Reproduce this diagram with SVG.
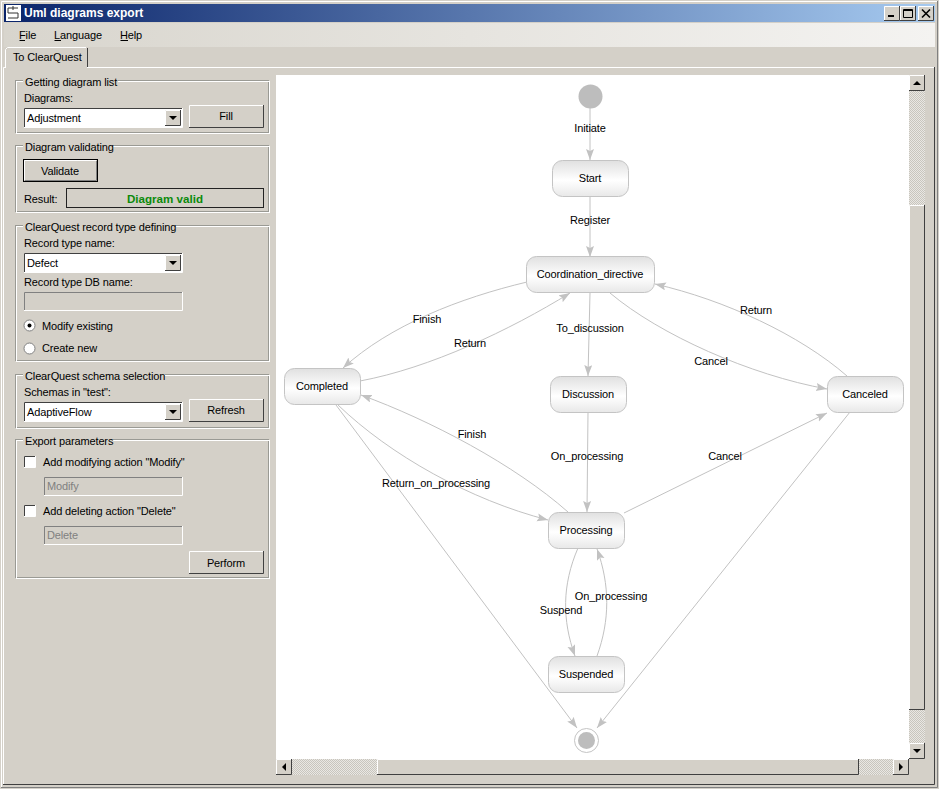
<svg xmlns="http://www.w3.org/2000/svg" width="939" height="789" viewBox="0 0 939 789">
<style>
text{font-family:"Liberation Sans",Arial,sans-serif;font-size:11px;letter-spacing:-0.13px;fill:#000}
.m{text-anchor:middle}
.dim{fill:#808080}
.grp{fill:none;stroke:#9a9a94;stroke-width:1}
.grph{fill:none;stroke:#fff;stroke-width:1}
.face{fill:#d4d0c8}
.white{fill:#fff}
.hl{stroke:#fff;fill:none}
.sh{stroke:#404040;fill:none}
.mid{stroke:#808080;fill:none}
.edge{fill:none;stroke:#c2c2c2;stroke-width:1;marker-end:url(#ah)}
.node rect{fill:url(#ng);stroke:#c4c4c4;stroke-width:1}
.glyph{fill:#000}
</style>
<defs>
<linearGradient id="title" x1="0" x2="1" y1="0" y2="0"><stop offset="0" stop-color="#0a246a"/><stop offset="1" stop-color="#a6caf0"/></linearGradient>
<linearGradient id="menu" x1="0" x2="1" y1="0" y2="0"><stop offset="0" stop-color="#d8d5cd"/><stop offset="1" stop-color="#f4f3f1"/></linearGradient>
<linearGradient id="ng" x1="0" x2="0" y1="0" y2="1"><stop offset="0" stop-color="#e0e0e0"/><stop offset="0.55" stop-color="#ffffff"/><stop offset="1" stop-color="#e8e8e8"/></linearGradient>
<pattern id="dith" width="2" height="2" patternUnits="userSpaceOnUse"><rect width="2" height="2" fill="#e9e7e3"/><rect width="1" height="1" fill="#c8c5bd"/><rect x="1" y="1" width="1" height="1" fill="#c8c5bd"/></pattern>
<marker id="ah" markerUnits="userSpaceOnUse" markerWidth="12" markerHeight="10" refX="11" refY="4" orient="auto"><path d="M0 0L11 4L0 8L2 4Z" fill="#c2c2c2"/></marker>
</defs>

<!-- window -->
<rect width="939" height="789" class="face"/>
<path d="M1.500 788V1.500H937" class="hl"/>
<path d="M937.500 1V787.500H1" class="mid"/>
<rect x="4" y="4" width="931" height="18" fill="url(#title)"/>
<rect x="6" y="5" width="15" height="16" fill="#fff"/>
<path d="M8 8H18M8 8V13H18V18H8M13 6V10" fill="none" stroke="#333" stroke-width="1"/>
<text x="24" y="17" style="font-weight:bold;font-size:12px;letter-spacing:0;fill:#fff">Uml diagrams export</text>
<g id="window-buttons">
<rect x="884" y="6" width="15" height="14" class="face"/><path d="M884.500 20V6.500H899" class="hl"/><path d="M899.500 6V20.500H884" class="sh"/><rect x="888" y="15" width="6" height="2" class="glyph"/>
<rect x="900" y="6" width="15" height="14" class="face"/><path d="M900.500 20V6.500H915" class="hl"/><path d="M915.500 6V20.500H900" class="sh"/><path d="M903.500 9.500H912.500V17.500H903.500Z M903 10.500H913" fill="none" stroke="#000"/>
<rect x="918" y="6" width="15" height="14" class="face"/><path d="M918.500 20V6.500H933" class="hl"/><path d="M933.500 6V20.500H918" class="sh"/><path d="M922 9.500L930 17.500M930 9.500L922 17.500" stroke="#000" stroke-width="1.600" fill="none"/>
</g>
<rect x="4" y="23" width="931" height="24" fill="url(#menu)"/>
<text x="19" y="39">File</text><path d="M19.500 40.500H25" stroke="#000" fill="none"/>
<text x="54" y="39">Language</text><path d="M54.500 40.500H61" stroke="#000" fill="none"/>
<text x="120" y="39">Help</text><path d="M120.500 40.500H128" stroke="#000" fill="none"/>

<!-- tab -->
<path d="M3.500 784V67.500H935" class="hl"/>
<path d="M934.500 67V784.500H3" class="sh"/>
<rect x="6" y="48" width="81" height="21" class="face"/>
<path d="M5.500 68V49.500L7.500 47.500H86" class="hl"/>
<path d="M87.500 48V67" class="sh"/>
<text x="13" y="61">To ClearQuest</text>

<!-- group boxes -->
<g id="group-list">
<rect x="15.500" y="80.500" width="253" height="52" class="grp"/><rect x="16.500" y="81.500" width="253" height="52" class="grph"/>
<rect x="23" y="76" width="95" height="10" class="face"/><text x="25" y="86">Getting diagram list</text>
<text x="24" y="102">Diagrams:</text>
<rect x="24" y="108" width="158" height="19" class="white"/><path d="M24.500 127V108.500H182" class="sh"/><path d="M182.500 108V127.500H24" class="hl"/>
<text x="27" y="122">Adjustment</text>
<rect x="165" y="110" width="15" height="15" class="face"/><path d="M165.500 125V110.500H180" class="hl"/><path d="M180.500 110V125.500H165" class="sh"/><path d="M169 116H177L173 120Z" class="glyph"/>
<rect x="189" y="105" width="75" height="23" class="face"/><path d="M189.500 128V105.500H264" class="hl"/><path d="M263.500 105V127.500H189" class="sh"/>
<text x="226" y="120" class="m">Fill</text>
</g>
<g id="group-validate">
<rect x="15.500" y="145.500" width="253" height="66" class="grp"/><rect x="16.500" y="146.500" width="253" height="66" class="grph"/>
<rect x="23" y="141" width="90" height="10" class="face"/><text x="25" y="151">Diagram validating</text>
<rect x="23.500" y="159.500" width="74" height="22" class="face" stroke="#000"/><path d="M24.500 180V160.500H96" class="hl"/><path d="M96.500 161V180.500H25" class="mid"/>
<text x="60" y="175" class="m">Validate</text>
<text x="24" y="203">Result:</text>
<rect x="66.500" y="188.500" width="197" height="19" fill="none" stroke="#222"/>
<text x="165" y="203" class="m" style="font-weight:bold;font-size:11.600px;letter-spacing:0;fill:#0b8a0b">Diagram valid</text>
</g>
<g id="group-record">
<rect x="15.500" y="225.500" width="253" height="135" class="grp"/><rect x="16.500" y="226.500" width="253" height="135" class="grph"/>
<rect x="23" y="221" width="153" height="10" class="face"/><text x="25" y="231">ClearQuest record type defining</text>
<text x="24" y="247">Record type name:</text>
<rect x="24" y="253" width="158" height="19" class="white"/><path d="M24.500 272V253.500H182" class="sh"/><path d="M182.500 253V272.500H24" class="hl"/>
<text x="27" y="267">Defect</text>
<rect x="165" y="255" width="15" height="15" class="face"/><path d="M165.500 270V255.500H180" class="hl"/><path d="M180.500 255V270.500H165" class="sh"/><path d="M169 261H177L173 265Z" class="glyph"/>
<text x="24" y="286">Record type DB name:</text>
<path d="M24.500 310V292.500H182" class="mid"/><path d="M182.500 292V310.500H24" class="hl"/>
<circle cx="29.500" cy="325.500" r="5.500" fill="#fff" stroke="#808080"/><circle cx="29.500" cy="325.500" r="2" class="glyph"/>
<text x="42" y="330">Modify existing</text>
<circle cx="29.500" cy="348.500" r="5.500" fill="#fff" stroke="#808080"/>
<text x="42" y="352">Create new</text>
</g>
<g id="group-schema">
<rect x="15.500" y="374.500" width="253" height="53" class="grp"/><rect x="16.500" y="375.500" width="253" height="53" class="grph"/>
<rect x="23" y="370" width="142" height="10" class="face"/><text x="25" y="380">ClearQuest schema selection</text>
<text x="24" y="396">Schemas in "test":</text>
<rect x="24" y="402" width="158" height="19" class="white"/><path d="M24.500 421V402.500H182" class="sh"/><path d="M182.500 402V421.500H24" class="hl"/>
<text x="27" y="416">AdaptiveFlow</text>
<rect x="165" y="404" width="15" height="15" class="face"/><path d="M165.500 419V404.500H180" class="hl"/><path d="M180.500 404V419.500H165" class="sh"/><path d="M169 410H177L173 414Z" class="glyph"/>
<rect x="189" y="399" width="75" height="23" class="face"/><path d="M189.500 422V399.500H264" class="hl"/><path d="M263.500 399V421.500H189" class="sh"/>
<text x="226" y="414" class="m">Refresh</text>
</g>
<g id="group-export">
<rect x="15.500" y="439.500" width="253" height="138" class="grp"/><rect x="16.500" y="440.500" width="253" height="138" class="grph"/>
<rect x="23" y="435" width="90" height="10" class="face"/><text x="25" y="445">Export parameters</text>
<rect x="24" y="456" width="11" height="11" class="white"/><path d="M24.500 467V456.500H36" class="sh"/><path d="M35.500 456V467.500H24" class="hl"/>
<text x="43" y="466">Add modifying action "Modify"</text>
<path d="M44.500 495V477.500H182" class="mid"/><path d="M182.500 477V495.500H44" class="hl"/>
<text x="47" y="490" class="dim">Modify</text>
<rect x="24" y="505" width="11" height="11" class="white"/><path d="M24.500 516V505.500H36" class="sh"/><path d="M35.500 505V516.500H24" class="hl"/>
<text x="43" y="515">Add deleting action "Delete"</text>
<path d="M44.500 544V526.500H182" class="mid"/><path d="M182.500 526V544.500H44" class="hl"/>
<text x="47" y="539" class="dim">Delete</text>
<rect x="189" y="551" width="75" height="23" class="face"/><path d="M189.500 574V551.500H264" class="hl"/><path d="M263.500 551V573.500H189" class="sh"/>
<text x="226" y="567" class="m">Perform</text>
</g>

<!-- canvas -->
<rect x="276" y="75" width="633" height="684" class="white"/>

<!-- scrollbars -->
<g id="scrollbars">
<rect x="909" y="75" width="16" height="684" fill="url(#dith)"/>
<rect x="909" y="75" width="16" height="16" class="face"/><path d="M909.500 91V75.500H925" class="hl"/><path d="M924.500 75V90.500H909" class="sh"/><path d="M913 85H921L917 81Z" class="glyph"/>
<rect x="909" y="205" width="16" height="505" class="face"/><path d="M909.500 710V205.500H925" class="hl"/><path d="M924.500 205V709.500H909" class="sh"/>
<rect x="909" y="743" width="16" height="16" class="face"/><path d="M909.500 759V743.500H925" class="hl"/><path d="M924.500 743V758.500H909" class="sh"/><path d="M913 749H921L917 753Z" class="glyph"/>
<rect x="276" y="759" width="633" height="16" fill="url(#dith)"/>
<rect x="276" y="759" width="16" height="16" class="face"/><path d="M276.500 775V759.500H292" class="hl"/><path d="M291.500 759V774.500H276" class="sh"/><path d="M286 763V771L282 767Z" class="glyph"/>
<rect x="377" y="759" width="482" height="16" class="face"/><path d="M377.500 775V759.500H859" class="hl"/><path d="M858.500 759V774.500H377" class="sh"/>
<rect x="893" y="759" width="16" height="16" class="face"/><path d="M893.500 775V759.500H909" class="hl"/><path d="M908.500 759V774.500H893" class="sh"/><path d="M899 763V771L903 767Z" class="glyph"/>
</g>

<!-- connectors -->
<g id="connectors">
<path class="edge" d="M590 108V160"/>
<path class="edge" d="M590 197V257"/>
<path class="edge" d="M590 293L588 376"/>
<path class="edge" d="M527 282C460 298 390 325 343 368"/>
<path class="edge" d="M360 381C430 368 510 330 570 293"/>
<path class="edge" d="M610 293C660 335 750 375 827 389"/>
<path class="edge" d="M847 376C800 335 725 300 655 284"/>
<path class="edge" d="M588 412L587 512"/>
<path class="edge" d="M568 512C515 465 430 420 361 395"/>
<path class="edge" d="M338 405C390 455 470 500 548 520"/>
<path class="edge" d="M336 405L577 728"/>
<path class="edge" d="M624 513L827 413"/>
<path class="edge" d="M850 412L597 728"/>
<path class="edge" d="M578 548C562 585 562 620 575 656"/>
<path class="edge" d="M597 656C610 620 610 585 597 549"/>
<text x="590" y="132" class="m">Initiate</text>
<text x="590" y="224" class="m">Register</text>
<text x="427" y="323" class="m">Finish</text>
<text x="470" y="347" class="m">Return</text>
<text x="590" y="332" class="m">To_discussion</text>
<text x="711" y="365" class="m">Cancel</text>
<text x="756" y="314" class="m">Return</text>
<text x="587" y="460" class="m">On_processing</text>
<text x="472" y="438" class="m">Finish</text>
<text x="436" y="487" class="m">Return_on_processing</text>
<text x="725" y="460" class="m">Cancel</text>
<text x="561" y="614" class="m">Suspend</text>
<text x="611" y="600" class="m">On_processing</text>
</g>

<!-- nodes -->
<g id="initial"><circle cx="590.500" cy="96.500" r="12" fill="#bdbdbd"/></g>
<g id="start" class="node"><rect x="552.500" y="160.500" width="76" height="36" rx="10"/><text x="590" y="182" class="m">Start</text></g>
<g id="coordination" class="node"><rect x="526.500" y="256.500" width="128" height="36" rx="10"/><text x="590" y="278" class="m">Coordination_directive</text></g>
<g id="discussion" class="node"><rect x="550.500" y="376.500" width="76" height="36" rx="10"/><text x="588" y="398" class="m">Discussion</text></g>
<g id="completed" class="node"><rect x="284.500" y="368.500" width="76" height="36" rx="10"/><text x="322" y="390" class="m">Completed</text></g>
<g id="canceled" class="node"><rect x="827.500" y="376.500" width="76" height="36" rx="10"/><text x="865" y="398" class="m">Canceled</text></g>
<g id="processing" class="node"><rect x="548.500" y="512.500" width="76" height="36" rx="10"/><text x="586" y="534" class="m">Processing</text></g>
<g id="suspended" class="node"><rect x="548.500" y="656.500" width="76" height="36" rx="10"/><text x="586" y="678" class="m">Suspended</text></g>
<g id="final"><circle cx="586.500" cy="740.500" r="12" fill="#fff" stroke="#c4c4c4"/><circle cx="586.500" cy="740.500" r="8.500" fill="#bdbdbd"/></g>
</svg>
